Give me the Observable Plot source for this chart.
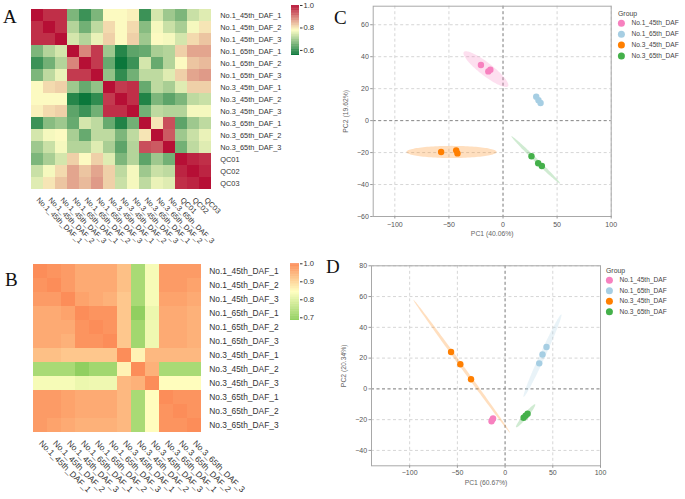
<!DOCTYPE html>
<html>
<head>
<meta charset="utf-8">
<script src="https://cdn.jsdelivr.net/npm/d3@7"></script>
<script src="https://cdn.jsdelivr.net/npm/@observablehq/plot@0.6"></script>
<style>
  html, body { margin: 0; padding: 0; background: #fff; }
  #fig { position: relative; width: 685px; height: 499px; overflow: hidden; font-family: "Liberation Sans", Arial, sans-serif; }
  #fig > * { position: absolute; }
</style>
</head>
<body>
<div id="fig"></div>
<script>
// ---- samples ----
const samples = [
  "No.1_45th_DAF_1", "No.1_45th_DAF_2", "No.1_45th_DAF_3",
  "No.1_65th_DAF_1", "No.1_65th_DAF_2", "No.1_65th_DAF_3",
  "No.3_45th_DAF_1", "No.3_45th_DAF_2", "No.3_45th_DAF_3",
  "No.3_65th_DAF_1", "No.3_65th_DAF_2", "No.3_65th_DAF_3"
];
const qcSamples = ["QC01", "QC02", "QC03"];
const samplesA = samples.concat(qcSamples);

// ---- correlation matrix, panel A (samples + QC) ----
const corrA = [
  [1.00, 0.97, 0.97, 0.66, 0.60, 0.66, 0.78, 0.78, 0.79, 0.60, 0.74, 0.69, 0.66, 0.73, 0.75],
  [0.97, 1.00, 0.97, 0.71, 0.65, 0.72, 0.81, 0.78, 0.81, 0.67, 0.77, 0.73, 0.70, 0.77, 0.80],
  [0.97, 0.97, 1.00, 0.74, 0.71, 0.76, 0.82, 0.78, 0.82, 0.69, 0.78, 0.77, 0.74, 0.81, 0.83],
  [0.66, 0.71, 0.74, 1.00, 0.89, 0.96, 0.69, 0.58, 0.63, 0.64, 0.70, 0.71, 0.82, 0.86, 0.86],
  [0.60, 0.65, 0.71, 0.89, 1.00, 0.96, 0.64, 0.555, 0.60, 0.74, 0.64, 0.71, 0.78, 0.83, 0.84],
  [0.66, 0.72, 0.76, 0.96, 0.96, 1.00, 0.68, 0.59, 0.65, 0.72, 0.72, 0.75, 0.82, 0.86, 0.87],
  [0.78, 0.81, 0.82, 0.69, 0.64, 0.68, 1.00, 0.96, 0.97, 0.64, 0.72, 0.70, 0.75, 0.82, 0.82],
  [0.78, 0.78, 0.78, 0.58, 0.555, 0.59, 0.96, 1.00, 0.97, 0.575, 0.66, 0.63, 0.66, 0.72, 0.73],
  [0.79, 0.81, 0.82, 0.63, 0.60, 0.65, 0.97, 0.97, 1.00, 0.65, 0.72, 0.71, 0.71, 0.77, 0.77],
  [0.60, 0.67, 0.69, 0.64, 0.74, 0.72, 0.64, 0.575, 0.65, 1.00, 0.80, 0.94, 0.63, 0.69, 0.72],
  [0.74, 0.77, 0.78, 0.70, 0.64, 0.72, 0.72, 0.66, 0.72, 0.80, 1.00, 0.93, 0.69, 0.73, 0.76],
  [0.69, 0.73, 0.77, 0.71, 0.71, 0.75, 0.70, 0.63, 0.71, 0.94, 0.93, 1.00, 0.65, 0.72, 0.75],
  [0.66, 0.70, 0.74, 0.82, 0.78, 0.82, 0.75, 0.66, 0.71, 0.63, 0.69, 0.65, 1.00, 0.98, 0.97],
  [0.73, 0.77, 0.81, 0.86, 0.83, 0.86, 0.82, 0.72, 0.77, 0.69, 0.73, 0.72, 0.98, 1.00, 0.98],
  [0.75, 0.80, 0.83, 0.86, 0.84, 0.87, 0.82, 0.73, 0.77, 0.72, 0.76, 0.75, 0.97, 0.98, 1.00]
];

// ---- correlation matrix, panel B (samples only) ----
const corrB = [
  [1.00, 0.99, 0.98, 0.96, 0.96, 0.96, 0.93, 0.72, 0.83, 0.98, 0.98, 0.98],
  [0.99, 1.00, 0.98, 0.96, 0.96, 0.96, 0.93, 0.72, 0.83, 0.98, 0.98, 0.97],
  [0.98, 0.98, 1.00, 0.97, 0.96, 0.95, 0.92, 0.72, 0.83, 0.97, 0.97, 0.96],
  [0.96, 0.96, 0.97, 1.00, 0.99, 0.99, 0.92, 0.685, 0.815, 0.96, 0.96, 0.95],
  [0.96, 0.96, 0.96, 0.99, 1.00, 0.99, 0.92, 0.71, 0.82, 0.96, 0.96, 0.95],
  [0.96, 0.96, 0.95, 0.99, 0.99, 1.00, 0.92, 0.71, 0.82, 0.96, 0.96, 0.95],
  [0.93, 0.93, 0.92, 0.92, 0.92, 0.92, 1.00, 0.86, 0.94, 0.94, 0.94, 0.94],
  [0.72, 0.72, 0.72, 0.685, 0.71, 0.71, 0.86, 1.00, 0.95, 0.72, 0.72, 0.72],
  [0.83, 0.83, 0.83, 0.815, 0.82, 0.82, 0.94, 0.95, 1.00, 0.845, 0.845, 0.845],
  [0.98, 0.98, 0.97, 0.96, 0.96, 0.96, 0.94, 0.72, 0.845, 1.00, 0.99, 0.99],
  [0.98, 0.98, 0.97, 0.96, 0.96, 0.96, 0.94, 0.72, 0.845, 0.99, 1.00, 0.99],
  [0.98, 0.97, 0.96, 0.95, 0.95, 0.95, 0.94, 0.72, 0.845, 0.99, 0.99, 1.00]
];
const ticksA = [0.6, 0.8, 1.0];
const ticksB = [0.7, 0.8, 0.9, 1.0];

// ---- PCA scores ----
const groups = ["No.1_45th_DAF", "No.1_65th_DAF", "No.3_45th_DAF", "No.3_65th_DAF"];
const groupColors = ["#f781bf", "#a6cee3", "#ff7f00", "#44b04a"];
const sampleGroup = samples.map(s => s.slice(0, 13));

// all metabolites (with QC-based filtering)
const pc1C = [-20.4, -13.6, -11.7, 30.7, 32.8, 34.7, -57.2, -43.3, -42.1, 26.3, 32.5, 35.9];
const pc2C = [34.8, 30.8, 31.9, 15.0, 12.7, 11.0, -19.6, -18.6, -20.5, -22.3, -26.7, -28.4];
// differential metabolites
const pc1D = [-14.2, -13.2, -12.6, 35.8, 39.2, 43.4, -56.6, -46.9, -35.7, 19.4, 21.5, 23.6];
const pc2D = [-21.0, -19.8, -19.2, 16.6, 22.3, 27.2, 24.0, 16.0, 6.3, -18.8, -17.5, -16.2];

// confidence ellipses: centre, major and minor semi-axis vectors (data units)
const ellCenterC = [[-15.8, 32.2], [32.7, 13.0], [-47.6, -19.6], [30.3, -24.6]];
const ellMajorC  = [[20.4, -10.7], [3.0, -3.2], [41.7, 0], [22.5, -14.8]];
const ellMinorC  = [[-3.7, -3.2], [-0.9, -0.8], [0, 3.8], [-1.17, -0.81]];
const ellCenterD = [[-13.4, -20.1], [39.2, 21.6], [-45.5, 14.75], [21.5, -17.5]];
const ellMajorD  = [[1.4, 1.9], [19.8, 26.8], [50.7, -43.25], [10.0, 7.45]];
const ellMinorD  = [[1.6, -1.0], [2.65, -0.76], [-1.35, -0.61], [1.76, -0.91]];

const fig = document.getElementById("fig");
const FONT = '"Liberation Sans", Arial, sans-serif';

function place(el, left, top) {
  el.style.left = left + "px";
  el.style.top = top + "px";
  fig.appendChild(el);
  return el;
}

// ---- heatmap ----
function heatmap(names, corr, colorScale, opts) {
  const cells = names.flatMap((r, i) => names.map((c, j) => ({row: r, col: c, v: corr[i][j]})));
  return Plot.plot({
    width: opts.width, height: opts.height,
    marginLeft: opts.left, marginRight: opts.right, marginTop: opts.top, marginBottom: opts.bottom,
    x: {domain: names, padding: 0, axis: null},
    y: {domain: names, padding: 0, axis: null},
    color: colorScale,
    style: {fontFamily: FONT, color: "#333", background: "transparent"},
    marks: [
      Plot.cell(cells, {x: "col", y: "row", fill: "v", inset: 0, shapeRendering: "crispEdges"}),
      Plot.axisY({anchor: "right", tickSize: 0, tickPadding: opts.labelPad, fontSize: opts.font, label: null}),
      Plot.text(names, {x: d => d, frameAnchor: "bottom", dx: opts.rotDx, dy: opts.rotDy, rotate: 45,
        textAnchor: "start", fontSize: opts.font, fill: "#333"})
    ]
  });
}

// ---- vertical colour bar ----
function colorBar(colorScale, domain, ticks, opts) {
  const n = 80;
  const steps = d3.range(n).map(i => domain[0] + (domain[1] - domain[0]) * i / n);
  const h = (domain[1] - domain[0]) / n;
  return Plot.plot({
    width: opts.width, height: opts.height,
    marginLeft: opts.left, marginRight: opts.right, marginTop: opts.top, marginBottom: opts.bottom,
    x: {domain: [0, 1], axis: null},
    y: {domain: domain},
    color: colorScale,
    style: {fontFamily: FONT, color: "#333", background: "transparent"},
    marks: [
      Plot.rect(steps, {x1: 0, x2: 1, y1: d => d, y2: d => Math.min(d + h * 1.6, domain[1]), fill: d => d + h / 2}),
      Plot.axisY(ticks, {anchor: "right", tickSize: 2.5, tickPadding: 1.5, tickFormat: d3.format(".1f"),
        fontSize: 7.6, label: null})
    ]
  });
}

const minA = d3.min(corrA.flat()), minB = d3.min(corrB.flat());
const colorA = {type: "linear", domain: [minA, (minA + 1) / 2, 1], range: ["#0b773b", "#fdfdc3", "#b60f35"], interpolate: "rgb"};
const colorB = {type: "linear", domain: [minB, (minB + 1) / 2, 1], range: ["#91cf60", "#ffffbf", "#fc8d59"], interpolate: "rgb"};

place(heatmap(samplesA, corrA, colorA, {width: 290, height: 250, left: 27.7, right: 75, top: 5.7, bottom: 58,
  labelPad: 4.7, font: 7.4, rotDx: -1.5, rotDy: 8}), 0, 0);
place(colorBar(colorA, [minA, 1], ticksA, {width: 40, height: 65, left: 6, right: 26, top: 5, bottom: 10}), 285, 0);

place(heatmap(samples, corrB, colorB, {width: 290, height: 249, left: 30.7, right: 87.3, top: 12.3, bottom: 64.7,
  labelPad: 6, font: 8.4, rotDx: -2, rotDy: 9}), 0, 250);
place(colorBar(colorB, [minB, 1], ticksB, {width: 40, height: 70, left: 5, right: 26, top: 8.3, bottom: 5}), 285, 255);

// ---- PCA score plot ----
function ellipsePoints(c, u, v) {
  return d3.range(0, 361, 3).map(deg => {
    const t = deg * Math.PI / 180;
    return {x: c[0] + u[0] * Math.cos(t) + v[0] * Math.sin(t), y: c[1] + u[1] * Math.cos(t) + v[1] * Math.sin(t)};
  });
}

function pcaPlot(pc1, pc2, o) {
  const pts = pc1.map((x, i) => ({x, y: pc2[i], group: sampleGroup[i]}));
  const grid = {stroke: "#d6d6d6", strokeOpacity: 1, strokeDasharray: "3,2.5"};
  const zero = {stroke: "#8c8c8c", strokeOpacity: 1, strokeDasharray: "3,2.5"};
  return Plot.plot({
    width: o.width, height: o.height,
    marginLeft: o.left, marginRight: o.right, marginTop: o.top, marginBottom: o.bottom,
    x: {domain: o.xDomain},
    y: {domain: o.yDomain},
    color: {domain: groups, range: groupColors},
    style: {fontFamily: FONT, color: "#555", background: "transparent"},
    marks: [
      Plot.gridX(o.xTicks, grid),
      Plot.gridY(o.yTicks, grid),
      Plot.ruleX([0], zero),
      Plot.ruleY([0], zero),
      ...groups.map((g, k) => Plot.line(ellipsePoints(o.ellC[k], o.ellU[k], o.ellV[k]),
        {x: "x", y: "y", fill: groupColors[k], fillOpacity: 0.25, stroke: "none"})),
      Plot.dot(pts, {x: "x", y: "y", fill: "group", r: 3.2}),
      Plot.frame({stroke: "#a8a8a8"}),
      Plot.axisX(o.xTicks, {tickSize: 2.5, tickPadding: o.xPad, fontSize: 7, label: null, stroke: "#999"}),
      Plot.axisY(o.yTicks, {tickSize: 2.5, tickPadding: 1.9, fontSize: 7, label: null, stroke: "#999"}),
      Plot.text([o.xLabel], {frameAnchor: "bottom", dy: o.titleDy, fontSize: 6.8, fill: "#666"}),
      Plot.text([o.yLabel], {frameAnchor: "left", dx: -27.7, rotate: -90, textAnchor: "middle", fontSize: 6.8, fill: "#666"})
    ]
  });
}

place(pcaPlot(pc1C, pc2C, {
  width: 385, height: 250, left: 72.7, right: 74.3, top: 5.7, bottom: 34,
  xDomain: [-120, 100], yDomain: [-60, 71.6],
  xTicks: [-100, -50, 0, 50, 100], yTicks: [-60, -40, -20, 0, 20, 40, 60],
  ellC: ellCenterC, ellU: ellMajorC, ellV: ellMinorC,
  xPad: 3, titleDy: 19.7, xLabel: "PC1 (40.06%)", yLabel: "PC2 (19.62%)"
}), 300, 0);

place(pcaPlot(pc1D, pc2D, {
  width: 385, height: 249, left: 71, right: 85, top: 15.3, bottom: 33.7,
  xDomain: [-140, 100], yDomain: [-50, 80],
  xTicks: [-100, -50, 0, 50, 100], yTicks: [-40, -20, 0, 20, 40, 60, 80],
  ellC: ellCenterD, ellU: ellMajorD, ellV: ellMinorD,
  xPad: 1.5, titleDy: 19, xLabel: "PC1 (60.67%)", yLabel: "PC2 (20.34%)"
}), 300, 250);

// ---- group legends ----
function groupLegend(left, top, gap) {
  const svg = d3.create("svg").attr("width", 80).attr("height", 62)
    .style("font-family", FONT).style("overflow", "visible");
  svg.append("text").attr("x", 0).attr("y", 4).attr("dominant-baseline", "middle")
    .attr("font-size", 6.9).attr("fill", "#444").text("Group");
  groups.forEach((g, i) => {
    const cy = 13.3 + i * gap;
    svg.append("circle").attr("cx", 3.4).attr("cy", cy).attr("r", 3.5).attr("fill", groupColors[i]);
    svg.append("text").attr("x", 13.4).attr("y", cy).attr("dominant-baseline", "middle")
      .attr("font-size", 6.6).attr("fill", "#444").text(g);
  });
  place(svg.node(), left, top);
}
groupLegend(618.3, 10, 10.9);
groupLegend(606, 266.7, 10.5);

// ---- panel letters ----
const tags = d3.create("svg").attr("width", 685).attr("height", 499)
  .style("font-family", '"Liberation Serif", "Times New Roman", serif').style("font-size", "19px");
[["A", 3, 23], ["B", 5, 286], ["C", 334, 24], ["D", 326, 273]].forEach(([t, x, y]) =>
  tags.append("text").attr("x", x).attr("y", y).attr("fill", "#111").text(t));
place(tags.node(), 0, 0).style.pointerEvents = "none";
</script>
</body>
</html>
